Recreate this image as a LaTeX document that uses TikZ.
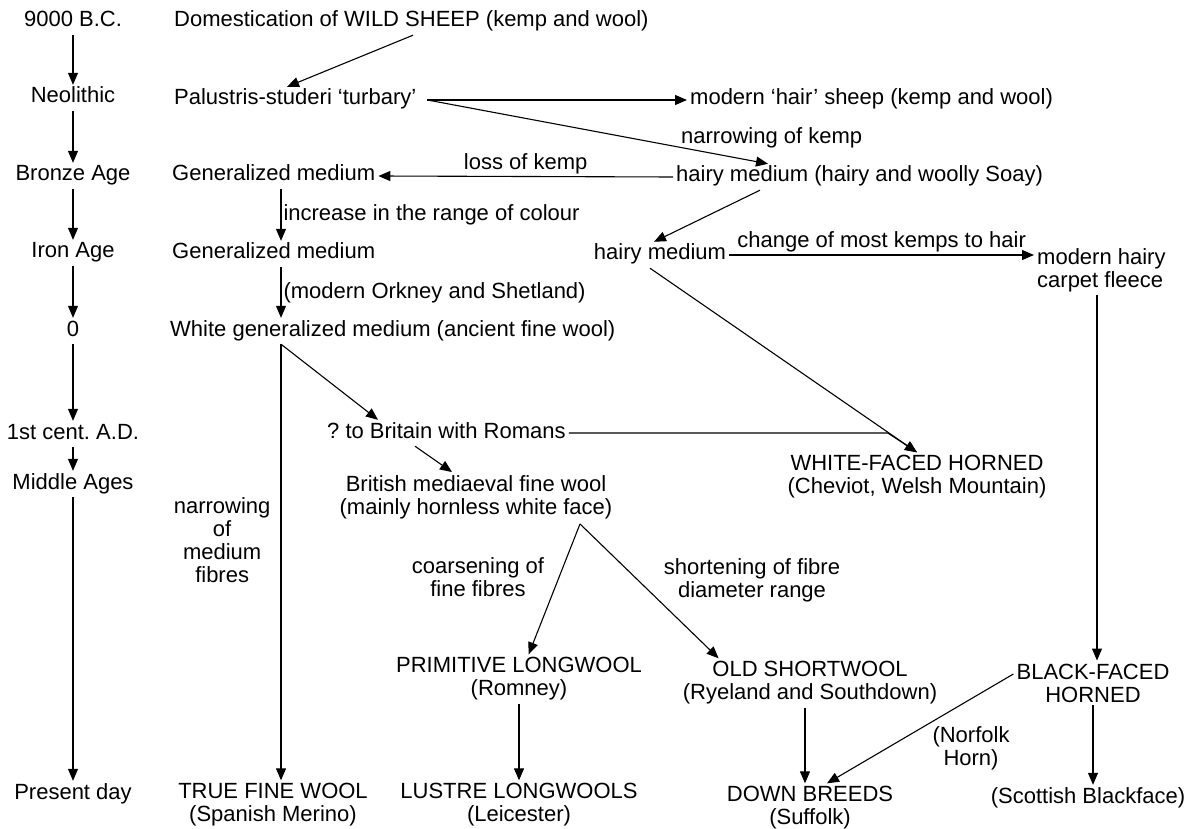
\documentclass[tikz,border=0pt]{standalone}
\usepackage{fontspec}
\setmainfont{Liberation Sans}
\usetikzlibrary{positioning,arrows.meta,calc}
\frenchspacing

\begin{document}
\begin{tikzpicture}[
  x=1pt, y=-1pt,
  font=\fontsize{22}{23}\selectfont,
  era/.style={inner sep=3pt,text height=15pt,text depth=5pt},
  breed/.style={inner sep=3pt,text height=15pt,text depth=5pt,anchor=west},
  pair/.style={inner sep=3pt,align=center},
  note/.style={inner sep=2pt,align=center},
  arr/.style={-{Triangle[length=12pt,width=10pt]},line width=1.1pt},
]
  \useasboundingbox (0,0) rectangle (1195,829);

  % time scale on the left
  \node[era] (bc)   at (73,22)  {9000 B.C.};
  \node[era] (neo)  at (73,98)  {Neolithic};
  \node[era] (bro)  at (73,176) {Bronze Age};
  \node[era] (iro)  at (73,253) {Iron Age};
  \node[era] (zero) at (73,331) {0};
  \node[era] (cent) at (73,434) {1st cent. A.D.};
  \node[era] (mid)  at (73,484) {Middle Ages};
  \node[era] (now)  at (73,794) {Present day};
  \foreach \a/\b in {bc/neo,neo/bro,bro/iro,iro/zero,zero/cent,cent/mid,mid/now}
    \draw[arr] (\a) -- (\b);

  % fleece types
  \node[breed] (dom)   at (171,22)  {Domestication of WILD SHEEP (kemp and wool)};
  \node[breed] (pal)   at (171,100) {Palustris-studeri ‘turbary’};
  \node[breed] (mhs)   at (687,100) {modern ‘hair’ sheep (kemp and wool)};
  \node[breed] (gen1)  at (169,176) {Generalized medium};
  \node[breed] (hm1)   at (673,177) {hairy medium (hairy and woolly Soay)};
  \node[breed] (gen2)  at (169,254) {Generalized medium};
  \node[breed,anchor=center] (hm2) at (660,255) {hairy medium};
  \node[pair,align=left,anchor=west] (carp) at (1034,270) {modern hairy\\carpet fleece};
  \node[breed] (white) at (167,331) {White generalized medium (ancient fine wool)};
  \node[breed] (brit)  at (324,433) {? to Britain with Romans};
  \node[pair] (wfh) at (917,477) {WHITE-FACED HORNED\\(Cheviot, Welsh Mountain)};
  \node[pair] (bmf) at (476,497) {British mediaeval fine wool\\(mainly hornless white face)};
  \node[pair] (plw) at (519,679) {PRIMITIVE LONGWOOL\\(Romney)};
  \node[pair] (osw) at (810,683) {OLD SHORTWOOL\\(Ryeland and Southdown)};
  \node[pair] (bfh) at (1093,683) {BLACK-FACED\\HORNED};
  \node[pair] (tfw) at (273,805) {TRUE FINE WOOL\\(Spanish Merino)};
  \node[pair] (llw) at (519,805) {LUSTRE LONGWOOLS\\(Leicester)};
  \node[pair] (dbr) at (810,808) {DOWN BREEDS\\(Suffolk)};
  \node[era]  (scot) at (1088,798) {(Scottish Blackface)};

  % process notes without own arrow
  \node[note,anchor=west] (nk) at (679,138) {narrowing of kemp};
  \node[note] (cf) at (478,577) {coarsening of\\fine fibres};
  \node[note] (sf) at (752,580) {shortening of fibre\\diameter range};
  \node[note] (nh) at (971,748) {(Norfolk\\Horn)};

  \draw[arr] ($(dom.south west)+(242,0)$) -- ($(pal.north west)+(116,0)$);
  \draw[arr] ($(pal.east)+(8,0)$) -- (mhs.west);
  \draw[arr] ($(pal.east)+(8,0)$) -- ($(hm1.north west)+(95,0)$);
  \draw[arr] (hm1.west) -- (gen1.east) node[note,midway,above]{loss of kemp};
  \draw[arr] ($(gen1.south west)+(112,0)$) -- ($(gen2.north west)+(112,0)$)
    node[note,midway,right]{increase in the range of colour};
  \draw[arr] ($(gen2.south west)+(112,0)$) -- ($(white.north west)+(114,0)$)
    node[note,midway,right]{(modern Orkney and Shetland)};
  \draw[arr] ($(hm1.south west)+(87,0)$) -- ($(hm2.north)+(-6,0)$);
  \draw[arr] (hm2.east) -- (hm2.east -| carp.west)
    node[note,midway,above]{change of most kemps to hair};
  \draw[arr] ($(carp.south west)+(63,0)$) coordinate (c1) -- (c1 |- bfh.north);
  \draw[arr] (bfh.south) -- (bfh.south |- scot.north);
  \draw[arr] ($(bfh.west)+(0,-9)$) -- ($(dbr.north)+(17,0)$);

  \draw[arr] ($(white.south west)+(114,0)$) coordinate (w1) -- (w1 |- tfw.north)
    node[note,pos=0.45,left,xshift=-8pt]{narrowing\\of\\medium\\fibres};
  \draw[arr] (w1) -- ($(brit.north west)+(54,0)$);
  \draw[arr] ($(hm2.south)+(-10,0)$) -- (wfh.north);
  \draw[arr] (brit.east) -- ++(319,0) -- (wfh.north);
  \draw[arr] ($(brit.south west)+(91,0)$) -- ($(bmf.north)+(-24,0)$);

  \coordinate (fork) at ($(bmf.south)+(104,2)$);
  \draw[arr] (fork) -- (plw);
  \draw[arr] (fork) -- ($(osw.north west)+(39,0)$);
  \draw[arr] (plw) -- (llw);
  \draw[arr] ($(osw.south)+(-5,0)$) coordinate (o1) -- (o1 |- dbr.north);
\end{tikzpicture}
\end{document}
